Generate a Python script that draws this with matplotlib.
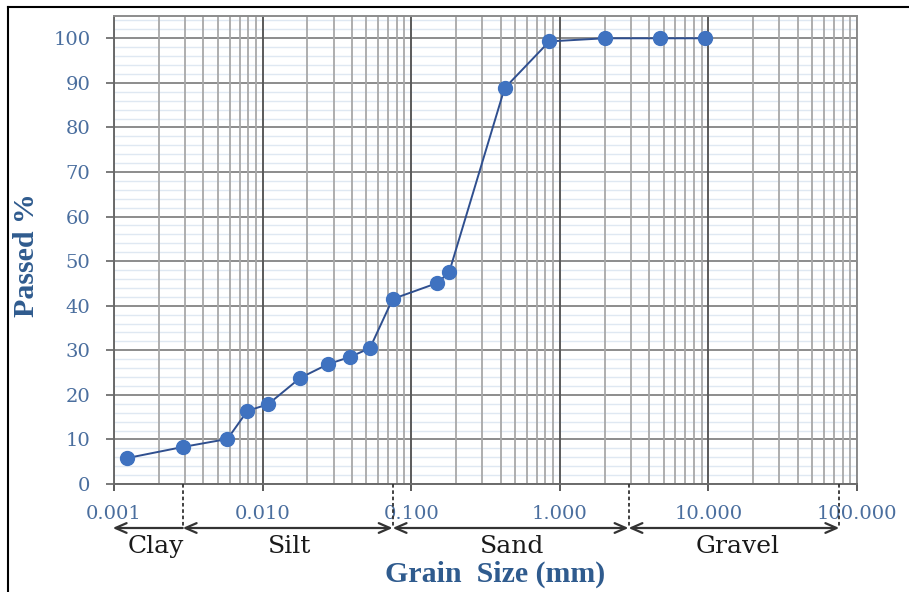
import matplotlib
matplotlib.use("Agg")
import matplotlib.pyplot as plt
from matplotlib.ticker import FixedLocator, NullFormatter
from matplotlib.lines import Line2D
import numpy as np

# ---- data ----
grain_size_mm = [0.00122, 0.0029, 0.0058, 0.0079, 0.0109, 0.0179, 0.0276, 0.0388,
                 0.0528, 0.075, 0.15, 0.18, 0.425, 0.85, 2.0, 4.75, 9.5]
passed_pct = [5.8, 8.3, 10.1, 16.4, 17.9, 23.8, 26.9, 28.5,
              30.5, 41.5, 45.1, 47.5, 88.8, 99.3, 100, 100, 100]

x_ticks = [0.001, 0.01, 0.1, 1.0, 10.0, 100.0]
x_tick_labels = ["0.001", "0.010", "0.100", "1.000", "10.000", "100.000"]
y_ticks = list(range(0, 101, 10))

soil_names = ["Clay", "Silt", "Sand", "Gravel"]
soil_bounds = [0.00098, 0.0029, 0.075, 2.9, 76.0]
soil_label_x = [0.0019, 0.0153, 0.476, 15.8]

# ---- styling ----
serif_tick = ["DejaVu Serif"]
serif_lab = ["Liberation Serif", "DejaVu Serif"]
tick_col = "#4a6e9e"
label_col = "#2f5b8e"

fig = plt.figure(figsize=(9.09, 5.92), dpi=100)
ax = fig.add_axes([114/909, 1-484/592, (857-114)/909, (484-16)/592])

ax.set_xscale("log")
ax.set_xlim(0.001, 100)
ax.set_ylim(0, 105)

# minor horizontal grid (every 2)
for yv in np.arange(2, 105, 2):
    if yv % 10 != 0:
        ax.axhline(yv, color="#dfe8f2", lw=1.0, zorder=0)
# major horizontal grid
for yv in y_ticks:
    ax.axhline(yv, color="#8c8c8c", lw=1.4, zorder=1)
# vertical grid
for d in [0.001, 0.01, 0.1, 1, 10]:
    for m in range(2, 10):
        ax.axvline(d*m, color="#a8a8a8", lw=1.3, zorder=1)
for xv in x_ticks:
    ax.axvline(xv, color="#5a5a5a", lw=1.4, zorder=1)

ax.plot(grain_size_mm, passed_pct, color="#2f4f8f", lw=1.4, zorder=3,
        marker="o", markersize=10, markerfacecolor="#3f72c0",
        markeredgecolor="#3f72c0")

for s in ax.spines.values():
    s.set_color("#8c8c8c")
    s.set_linewidth(1.4)
ax.spines["left"].set_color("#6a6a6a")
ax.spines["bottom"].set_color("#6a6a6a")

ax.xaxis.set_major_locator(FixedLocator(x_ticks))
ax.xaxis.set_minor_locator(FixedLocator([]))
ax.xaxis.set_minor_formatter(NullFormatter())
ax.set_xticklabels(x_tick_labels)
ax.yaxis.set_major_locator(FixedLocator(y_ticks))
ax.tick_params(axis="x", direction="out", length=5, width=1.4, color="#5a5a5a",
               labelsize=14, labelcolor=tick_col, pad=10)
ax.tick_params(axis="y", direction="out", length=6, width=1.4, color="#7a7a7a",
               labelsize=14, labelcolor=tick_col, pad=11)
for lab in ax.get_xticklabels() + ax.get_yticklabels():
    lab.set_family(serif_tick)

# soil classification arrows
trans = ax.get_xaxis_transform()
y_arrow = (484-528)/468
y_text = (484-553)/468
for b in soil_bounds[1:]:
    ax.plot([b, b], [0, y_arrow], transform=trans, color="#333333", lw=1.3,
            ls=(0, (2, 1.5)), clip_on=False, zorder=5)
for i, name in enumerate(soil_names):
    x0, x1 = soil_bounds[i], soil_bounds[i+1]
    if i == 0:
        ax.annotate("", xy=(x0, y_arrow), xytext=(x1, y_arrow), xycoords=trans,
                    textcoords=trans,
                    arrowprops=dict(arrowstyle="->,head_length=0.8,head_width=0.35",
                                    color="#333333", lw=1.6, shrinkA=0, shrinkB=0))
    else:
        ax.annotate("", xy=(x1, y_arrow), xytext=(x0, y_arrow), xycoords=trans,
                    textcoords=trans,
                    arrowprops=dict(arrowstyle="<->,head_length=0.8,head_width=0.35",
                                    color="#333333", lw=1.6, shrinkA=0, shrinkB=0))
    ax.text(soil_label_x[i], y_text, name, transform=trans, ha="center", va="baseline",
            fontsize=18, color="#1a1a1a", family=serif_tick)

fig.text(495/909, 1-574/592, "Grain  Size (mm)", ha="center", va="center",
         fontsize=21.5, fontweight="bold", color=label_col, family=serif_lab)
fig.text(27/909, 1-255/592, "Passed %", ha="center", va="center", rotation=90,
         fontsize=21.5, fontweight="bold", color=label_col, family=serif_lab)

# figure border (left and top)
fig.add_artist(Line2D([8/909, 8/909], [0, 1-7/592], transform=fig.transFigure,
                      color="black", lw=1.5))
fig.add_artist(Line2D([8/909, 1], [1-7/592, 1-7/592], transform=fig.transFigure,
                      color="black", lw=1.5))

fig.savefig("out.png", dpi=100)
